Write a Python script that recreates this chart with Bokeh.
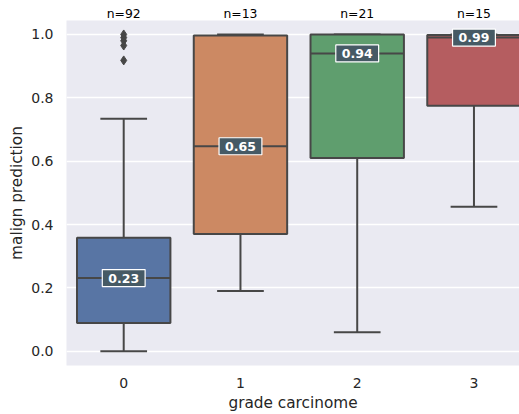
from bokeh.plotting import figure
from bokeh.models import ColumnDataSource, LinearAxis, Range1d, FixedTicker, CustomJSTickFormatter
from bokeh.core.properties import value
from bokeh.embed import file_html
from bokeh.resources import INLINE

grades = [0, 1, 2, 3]
q1 = [0.089, 0.37, 0.61, 0.775]
median = [0.231, 0.647, 0.94, 0.99]
q3 = [0.358, 0.997, 1.0, 0.998]
whisk_low = [0.0, 0.19, 0.06, 0.456]
whisk_high = [0.734, 1.0, 1.0, 1.0]
counts = [92, 13, 21, 15]
median_text = ["0.23", "0.65", "0.94", "0.99"]
colors = ["#5875a4", "#cc8963", "#5f9e6e", "#b55d60"]
outlier_x = [0, 0, 0, 0, 0]
outlier_y = [1.0, 0.99, 0.98, 0.965, 0.918]
y_ticks = [0.0, 0.2, 0.4, 0.6, 0.8, 1.0]

GRAY = "#474747"
BOXW = 0.8
LW = 2

p = figure(width=519, height=414, output_backend="svg", toolbar_location=None,
           x_range=Range1d(-0.49, 3.39), y_range=Range1d(-0.045, 1.044),
           min_border_left=66, min_border_top=20, min_border_right=0, min_border_bottom=49)
p.background_fill_color = "#eaeaf2"
p.border_fill_color = "white"
p.outline_line_color = None
p.xgrid.grid_line_color = None
p.ygrid.grid_line_color = "white"
p.ygrid.grid_line_width = 1.3

src = ColumnDataSource(dict(
    x=grades, q1=q1, q3=q3, med=median, lo=whisk_low, hi=whisk_high,
    left=[g - BOXW / 2 for g in grades], right=[g + BOXW / 2 for g in grades],
    capl=[g - BOXW / 4 for g in grades], capr=[g + BOXW / 4 for g in grades],
    color=colors, mtext=median_text,
))

# whiskers
p.segment(x0="x", y0="lo", x1="x", y1="q1", source=src, line_color=GRAY, line_width=LW)
p.segment(x0="x", y0="q3", x1="x", y1="hi", source=src, line_color=GRAY, line_width=LW)
p.segment(x0="capl", y0="lo", x1="capr", y1="lo", source=src, line_color=GRAY, line_width=LW)
p.segment(x0="capl", y0="hi", x1="capr", y1="hi", source=src, line_color=GRAY, line_width=LW)
# boxes
p.quad(left="left", right="right", bottom="q1", top="q3", source=src,
       fill_color="color", line_color=GRAY, line_width=LW)
# medians
p.segment(x0="left", y0="med", x1="right", y1="med", source=src, line_color=GRAY, line_width=LW)
# outliers
p.scatter(outlier_x, outlier_y, marker="diamond", size=9, fill_color=GRAY, line_color=GRAY)

p.text(x="x", y="med", text="mtext", source=src,
       text_align="center", text_baseline="middle",
       text_color="white", text_font=value("DejaVu Sans"), text_font_style="bold",
       text_font_size="12.5px",
       background_fill_color="#465a65", border_line_color="white",
       border_line_width=1.2, padding=(6, 4))

xa = p.below[0]
ya = p.left[0]

# count labels above the plot, as a top axis
top = LinearAxis(ticker=FixedTicker(ticks=grades),
                 major_label_overrides={g: f"n={n}" for g, n in zip(grades, counts)})
p.add_layout(top, "above")

for ax in (xa, ya, top):
    ax.axis_line_color = None
    ax.major_tick_line_color = None
    ax.minor_tick_line_color = None
    ax.major_tick_out = 0
    ax.major_tick_in = 0
    ax.major_label_text_font = "DejaVu Sans"
    ax.major_label_text_font_size = "14px"
    ax.major_label_text_color = "#262626"
    ax.axis_label_text_font = "DejaVu Sans"
    ax.axis_label_text_font_size = "15.3px"
    ax.axis_label_text_font_style = "normal"
    ax.axis_label_text_color = "#262626"

top.major_label_text_font_size = "12.4px"
top.major_label_text_color = "black"
top.major_label_standoff = 0

xa.ticker = FixedTicker(ticks=grades)
xa.axis_label = "grade carcinome"
xa.major_label_standoff = 12
xa.axis_label_standoff = 3
ya.ticker = FixedTicker(ticks=y_ticks)
ya.formatter = CustomJSTickFormatter(code="return tick.toFixed(1);")
ya.axis_label = "malign prediction"
ya.major_label_standoff = 13
ya.axis_label_standoff = 2

open("out.html", "w").write(file_html(p, INLINE))
